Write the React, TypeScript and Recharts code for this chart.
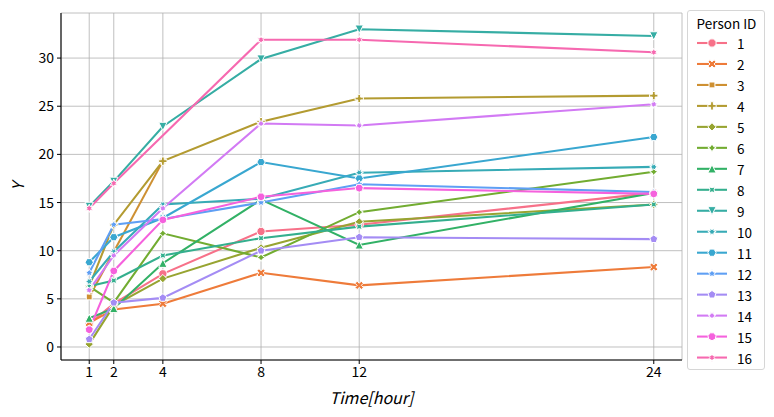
import React from "react";
import { LineChart, Line, XAxis, YAxis, CartesianGrid } from "recharts";

const hours = [1, 2, 4, 8, 12, 24];
const xTicks = [1, 2, 4, 8, 12, 24];
const yTicks = [0, 5, 10, 15, 20, 25, 30];
const personIds = ["1", "2", "3", "4", "5", "6", "7", "8", "9", "10", "11", "12", "13", "14", "15", "16"];

const person1 = [2.4, 4.5, 7.6, 12.0, 12.7, 16.0];
const person2 = [2.5, 3.9, 4.5, 7.7, 6.4, 8.3];
const person3 = [5.2, null, 19.3, null, null, null];
const person4 = [6.3, 12.7, 19.3, 23.4, 25.8, 26.1];
const person5 = [0.3, 4.3, 7.1, 10.3, 13.0, 14.8];
const person6 = [6.3, 4.6, 11.8, 9.3, 14.0, 18.2];
const person7 = [3.0, 4.0, 8.7, 15.3, 10.6, 16.0];
const person8 = [6.3, 6.9, 9.5, 11.3, 12.5, 14.8];
const person9 = [14.6, 17.2, 22.9, 29.9, 33.0, 32.3];
const person10 = [6.8, 9.9, 14.8, 15.4, 18.1, 18.7];
const person11 = [8.8, 11.4, 13.4, 19.2, 17.5, 21.8];
const person12 = [7.7, 12.7, 13.3, 15.0, 16.9, 16.1];
const person13 = [0.8, 4.6, 5.1, 10.0, 11.4, 11.2];
const person14 = [5.9, 9.5, 14.4, 23.2, 23.0, 25.2];
const person15 = [1.8, 7.9, 13.2, 15.6, 16.5, 15.9];
const person16 = [14.4, 17.0, null, 31.9, 31.9, 30.6];

const series = [
  person1, person2, person3, person4, person5, person6, person7, person8,
  person9, person10, person11, person12, person13, person14, person15, person16,
];

const colors = [
  "#f77189", "#ee7b3a", "#ce9032", "#b39b31", "#97a431", "#72ac31", "#32b166", "#34af8e",
  "#36ada4", "#37abb6", "#39a7d0", "#5f9ff4", "#a48cf4", "#d27af4", "#f561dd", "#f669b0",
];

// seaborn's default marker sequence
type Marker =
  | { k: "circle" }
  | { k: "X" }
  | { k: "P" }
  | { k: "tri"; up: boolean }
  | { k: "poly"; n: number; rot: number }
  | { k: "star"; n: number; rot: number };

const markers: Marker[] = [
  { k: "circle" },
  { k: "X" },
  { k: "poly", n: 4, rot: 45 },
  { k: "P" },
  { k: "poly", n: 4, rot: 0 },
  { k: "star", n: 4, rot: 0 },
  { k: "tri", up: true },
  { k: "star", n: 4, rot: 45 },
  { k: "tri", up: false },
  { k: "star", n: 6, rot: 30 },
  { k: "poly", n: 6, rot: 30 },
  { k: "star", n: 5, rot: 0 },
  { k: "poly", n: 5, rot: 0 },
  { k: "star", n: 7, rot: 360 / 7 / 2 },
  { k: "poly", n: 7, rot: 360 / 7 / 2 },
  { k: "star", n: 6, rot: 0 },
];

const MS = 8.3;
const FONT = "'Noto Sans CJK JP', 'DejaVu Sans', sans-serif";

function toPath(pts: number[][], cx: number, cy: number, s: number) {
  return (
    pts
      .map((p, i) => `${i === 0 ? "M" : "L"}${(cx + p[0] * s).toFixed(2)},${(cy - p[1] * s).toFixed(2)}`)
      .join(" ") + " Z"
  );
}

function markerPath(m: Marker, cx: number, cy: number, ms: number) {
  const r = ms / 2;
  if (m.k === "circle") {
    return `M${cx - r},${cy} a${r},${r} 0 1,0 ${2 * r},0 a${r},${r} 0 1,0 ${-2 * r},0 Z`;
  }
  if (m.k === "X") {
    const pts = [[-1, -2], [0, -1], [1, -2], [2, -1], [1, 0], [2, 1], [1, 2], [0, 1], [-1, 2], [-2, 1], [-1, 0], [-2, -1]];
    return toPath(pts.map((p) => [p[0] / 4, p[1] / 4]), cx, cy, ms);
  }
  if (m.k === "P") {
    const pts = [[-1, -3], [1, -3], [1, -1], [3, -1], [3, 1], [1, 1], [1, 3], [-1, 3], [-1, 1], [-3, 1], [-3, -1], [-1, -1]];
    return toPath(pts.map((p) => [p[0] / 6, p[1] / 6]), cx, cy, ms);
  }
  if (m.k === "tri") {
    const sgn = m.up ? 1 : -1;
    const pts = [[0, sgn], [-1, -sgn], [1, -sgn]];
    return toPath(pts.map((p) => [p[0] * 0.5, p[1] * 0.5]), cx, cy, ms);
  }
  const pts: number[][] = [];
  const rot = (m.rot * Math.PI) / 180;
  if (m.k === "poly") {
    for (let i = 0; i < m.n; i++) {
      const t = Math.PI / 2 + (2 * Math.PI * i) / m.n + rot;
      pts.push([0.5 * Math.cos(t), 0.5 * Math.sin(t)]);
    }
  } else {
    for (let i = 0; i < 2 * m.n; i++) {
      const t = Math.PI / 2 + (Math.PI * i) / m.n + rot;
      const rr = i % 2 === 0 ? 0.5 : 0.25;
      pts.push([rr * Math.cos(t), rr * Math.sin(t)]);
    }
  }
  return toPath(pts, cx, cy, ms);
}

const rows = hours.map((h, i) => {
  const row: Record<string, number | null> = { hour: h };
  series.forEach((s, j) => {
    row[`p${j + 1}`] = s[i];
  });
  return row;
});

function makeDot(idx: number) {
  return (props: any) => {
    const { cx, cy, value, index } = props;
    const key = `dot-${idx}-${index}`;
    if (value == null || cx == null || cy == null || isNaN(cy)) return <g key={key} />;
    return (
      <path
        key={key}
        d={markerPath(markers[idx], cx, cy, MS)}
        fill={colors[idx]}
        stroke="#ffffff"
        strokeWidth={1}
      />
    );
  };
}

function PersonLegend() {
  const rowH = 20.97;
  return (
    <div
      style={{
        position: "absolute",
        left: 687,
        top: 10,
        width: 78,
        height: 360,
        border: "1px solid #d6d6d6",
        borderRadius: 3,
        background: "#fff",
        boxSizing: "border-box",
      }}
    >
      <svg width={78} height={360} style={{ position: "absolute", left: -1, top: -1 }}>
        <text x={39.5} y={13} textAnchor="middle" dominantBaseline="central" fontFamily={FONT} fontSize={13.5} fill="#000">
          Person ID
        </text>
        {personIds.map((id, i) => {
          const y = 33 + i * rowH;
          return (
            <g key={id}>
              <line x1={10} x2={40} y1={y} y2={y} stroke={colors[i]} strokeWidth={2.08} />
              <path d={markerPath(markers[i], 25, y, MS)} fill={colors[i]} stroke="#fff" strokeWidth={1} />
              <text x={50} y={y} dominantBaseline="central" fontFamily={FONT} fontSize={13.5} fill="#000">
                {id}
              </text>
            </g>
          );
        })}
      </svg>
    </div>
  );
}

export default function App() {
  return (
    <div style={{ position: "absolute", left: 0, top: 0, width: 774, height: 417, background: "#fff" }}>
      <LineChart
        width={774}
        height={417}
        data={rows}
        margin={{ top: 13, right: 92, bottom: 0, left: 0 }}
        style={{ fontFamily: FONT }}
      >
        <CartesianGrid stroke="#b0b0b0" strokeWidth={0.8} />
        <XAxis
          dataKey="hour"
          type="number"
          domain={[-0.15, 25.15]}
          ticks={xTicks}
          interval={0}
          allowDataOverflow
          height={57}
          tickSize={4}
          tickMargin={3}
          tick={{ fill: "#000", fontSize: 14 }}
          tickLine={{ stroke: "#000", strokeWidth: 1 }}
          axisLine={{ stroke: "#000", strokeWidth: 1.1 }}
          label={{
            content: (p: any) => {
              const vb = p.viewBox;
              return (
                <text
                  x={vb.x + vb.width / 2}
                  y={vb.y + 37}
                  textAnchor="middle"
                  dominantBaseline="central"
                  fontFamily={FONT}
                  fontSize={16}
                  fontStyle="italic"
                  fill="#000"
                >
                  Time[hour]
                </text>
              );
            },
          }}
        />
        <XAxis
          xAxisId="top"
          orientation="top"
          type="number"
          domain={[-0.15, 25.15]}
          allowDataOverflow
          height={0}
          tick={false}
          tickLine={false}
          axisLine={{ stroke: "#000", strokeWidth: 1.1 }}
        />
        <YAxis
          type="number"
          domain={[-1.35, 34.68]}
          ticks={yTicks}
          interval={0}
          allowDataOverflow
          width={61}
          tickSize={4}
          tickMargin={3}
          tick={{ fill: "#000", fontSize: 14 }}
          tickLine={{ stroke: "#000", strokeWidth: 1 }}
          axisLine={{ stroke: "#000", strokeWidth: 1.1 }}
          label={{
            content: (p: any) => {
              const vb = p.viewBox;
              const x = vb.x + 17;
              const y = vb.y + vb.height / 2;
              return (
                <text
                  x={x}
                  y={y}
                  transform={`rotate(-90 ${x} ${y})`}
                  textAnchor="middle"
                  dominantBaseline="central"
                  fontFamily={FONT}
                  fontSize={16}
                  fontStyle="italic"
                  fill="#000"
                >
                  Y
                </text>
              );
            },
          }}
        />
        <YAxis
          yAxisId="right"
          orientation="right"
          type="number"
          domain={[-1.35, 34.68]}
          allowDataOverflow
          width={0}
          tick={false}
          tickLine={false}
          axisLine={{ stroke: "#000", strokeWidth: 1.1 }}
        />
        {personIds.map((id, i) => (
          <Line
            key={id}
            type="linear"
            dataKey={`p${i + 1}`}
            name={id}
            stroke={colors[i]}
            strokeWidth={2.08}
            dot={makeDot(i)}
            activeDot={false}
            connectNulls
            isAnimationActive={false}
          />
        ))}
      </LineChart>
      <PersonLegend />
    </div>
  );
}
